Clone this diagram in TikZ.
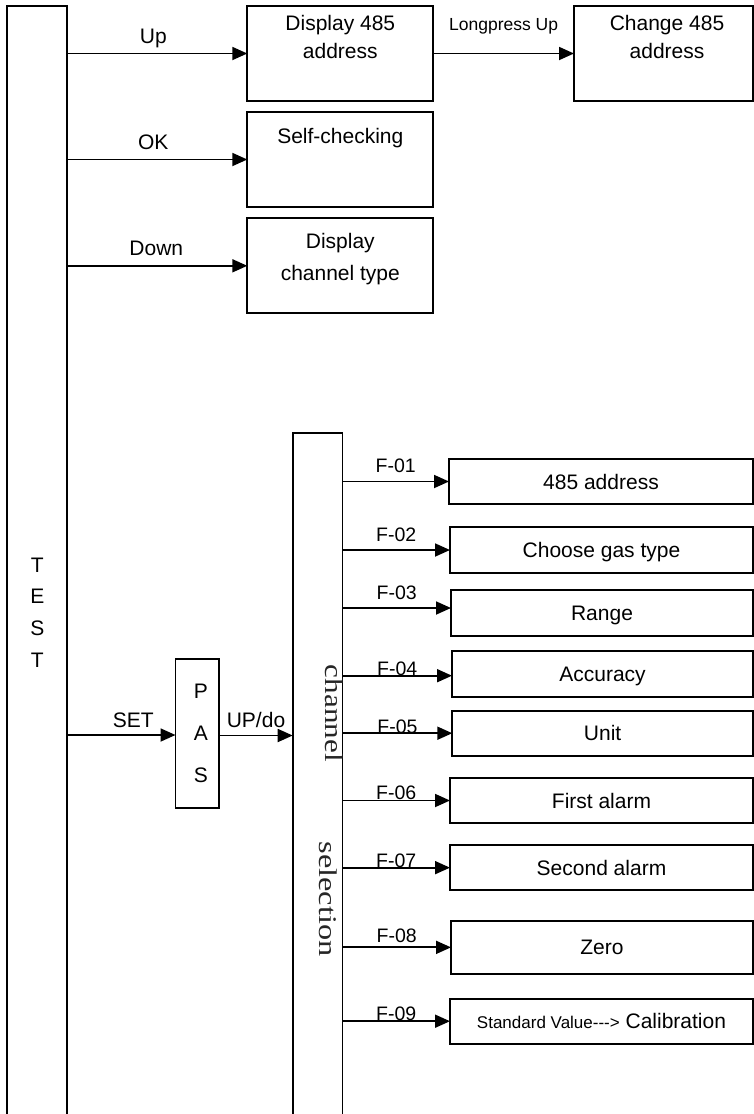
\documentclass[tikz,border=0pt]{standalone}
\usepackage{fontspec}
\setmainfont{Liberation Sans}
\newfontfamily\serifcs{Liberation Serif}
\usetikzlibrary{arrows.meta}
\begin{document}
\begin{tikzpicture}[x=1pt,y=-1pt,
  every node/.style={inner sep=0pt, outer sep=0pt},
  box/.style={draw, line width=1.8pt, rectangle, text height=15pt, text depth=0pt,
    font=\fontsize{21}{25}\selectfont},
  bigtxt/.style={align=center, font=\fontsize{21}{#1}\selectfont},
  arr/.style={line width=1.8pt, -{Triangle[length=15pt,width=13pt]}},
  lab/.style={anchor=base, font=\fontsize{21}{25}\selectfont},
  flab/.style={anchor=base, font=\fontsize{19.5}{23}\selectfont},
  vtxt/.style={rotate=-90, font=\serifcs\fontsize{25.5}{25.5}\selectfont, text=black!85}
]
\useasboundingbox (0,0) rectangle (754,1114);
\clip (0,0) rectangle (754,1114);

% main boxes
\node[box, minimum width=60, minimum height=1124] (test) at (37.3,568) {};
\node[bigtxt=31.7] (testtxt) at (37.3,612.5) {T\\E\\S\\T};

\node[box, minimum width=186, minimum height=95] (disp) at (340.3,53.5) {};
\node[bigtxt=28.5, anchor=north] (disptxt) at ([yshift=-9pt]disp.north) {Display 485\\address};

\node[box, minimum width=179, minimum height=95] (chg) at (663.5,53.5) {};
\node[bigtxt=28.5, anchor=north] (chgtxt) at ([xshift=3.5pt,yshift=-9pt]chg.north) {Change 485\\address};

\node[box, minimum width=186, minimum height=95] (self) at (340.3,159.5) {};
\node[bigtxt=28.5, anchor=north] (selftxt) at ([yshift=-16.3pt]self.north) {Self-checking};

\node[box, minimum width=186, minimum height=95] (dct) at (340.3,265.8) {};
\node[bigtxt=31.7, anchor=north] (dcttxt) at ([yshift=-15pt]dct.north) {Display\\channel type};

\node[box, minimum width=43.8, minimum height=148.4] (pas) at (197.4,733.5) {};
\node[bigtxt=41.7] (pastxt) at (201,733.4) {P\\A\\S};

\node[box, minimum width=49.8, minimum height=697.3] (chan) at (317.6,781.35) {};
\node[vtxt] (chantxt) at (333.8,713.3) {\scalebox{1.22}[1]{channel}};
\node[vtxt] (seltxt) at (328.7,899) {\scalebox{1.27}[1]{selection}};

% function boxes
\node[box, minimum width=304, minimum height=45] (f1) at (601,481.5) {485 address};
\node[box, minimum width=303, minimum height=46] (f2) at (601.5,550) {Choose gas type};
\node[box, minimum width=302, minimum height=46] (f3) at (602,613) {Range};
\node[box, minimum width=301, minimum height=46] (f4) at (602.5,673.7) {Accuracy};
\node[box, minimum width=300.7, minimum height=45] (f5) at (602.65,733.2) {Unit};
\node[box, minimum width=303, minimum height=45.6] (f6) at (601.5,800.5) {First alarm};
\node[box, minimum width=303, minimum height=45.3] (f7) at (601.5,867.65) {Second alarm};
\node[box, minimum width=302, minimum height=53.3] (f8) at (602,947.35) {Zero};
\node[box, minimum width=303, minimum height=45] (f9) at (601.5,1021.2)
  {{\fontsize{17}{20}\selectfont Standard Value-\kern0pt-\kern0pt-\kern0pt>} Calibration};

% connectors from TEST
\draw[arr] (test.east |- disp.west) -- node[lab, yshift=10.5pt, xshift=-4pt] {Up} (disp.west);
\draw[arr] (test.east |- self.west) -- node[lab, yshift=10.5pt, xshift=-4pt] {OK} (self.west);
\draw[arr] (test.east |- dct.west) -- node[lab, yshift=10.5pt, xshift=-1pt] {Down} (dct.west);
\draw[arr] (disp.east) -- node[anchor=base, yshift=23pt, font=\fontsize{17.5}{20}\selectfont] {Longpress Up} (chg.west);
\draw[arr] ([yshift=-1.5pt]test.east |- pas.west) -- node[lab, pos=0.61, yshift=8pt] {SET} ([yshift=-1.5pt]pas.west);
\draw[arr] ([yshift=-2pt]pas.east) -- node[lab, yshift=7.7pt] {UP/do} ([yshift=-2pt]chan.west |- pas.east);

% connectors from channel selection
\draw[arr] (chan.east |- f1.west) -- node[flab, yshift=9pt] {F-01} (f1.west);
\draw[arr] (chan.east |- f2.west) -- node[flab, yshift=8.7pt] {F-02} (f2.west);
\draw[arr] ([yshift=5pt]chan.east |- f3.west) -- node[flab, yshift=8.3pt] {F-03} ([yshift=5pt]f3.west);
\draw[arr] ([yshift=-2pt]chan.east |- f4.west) -- node[flab, yshift=0.7pt] {F-04} ([yshift=-2pt]f4.west);
\draw[arr] (chan.east |- f5.west) -- node[flab, yshift=0pt] {F-05} (f5.west);
\draw[arr] (chan.east |- f6.west) -- node[flab, yshift=0.7pt] {F-06} (f6.west);
\draw[arr] (chan.east |- f7.west) -- node[flab, yshift=0.3pt] {F-07} (f7.west);
\draw[arr] (chan.east |- f8.west) -- node[flab, yshift=4.6pt] {F-08} (f8.west);
\draw[arr] (chan.east |- f9.west) -- node[flab, yshift=0.7pt] {F-09} (f9.west);
\end{tikzpicture}
\end{document}
